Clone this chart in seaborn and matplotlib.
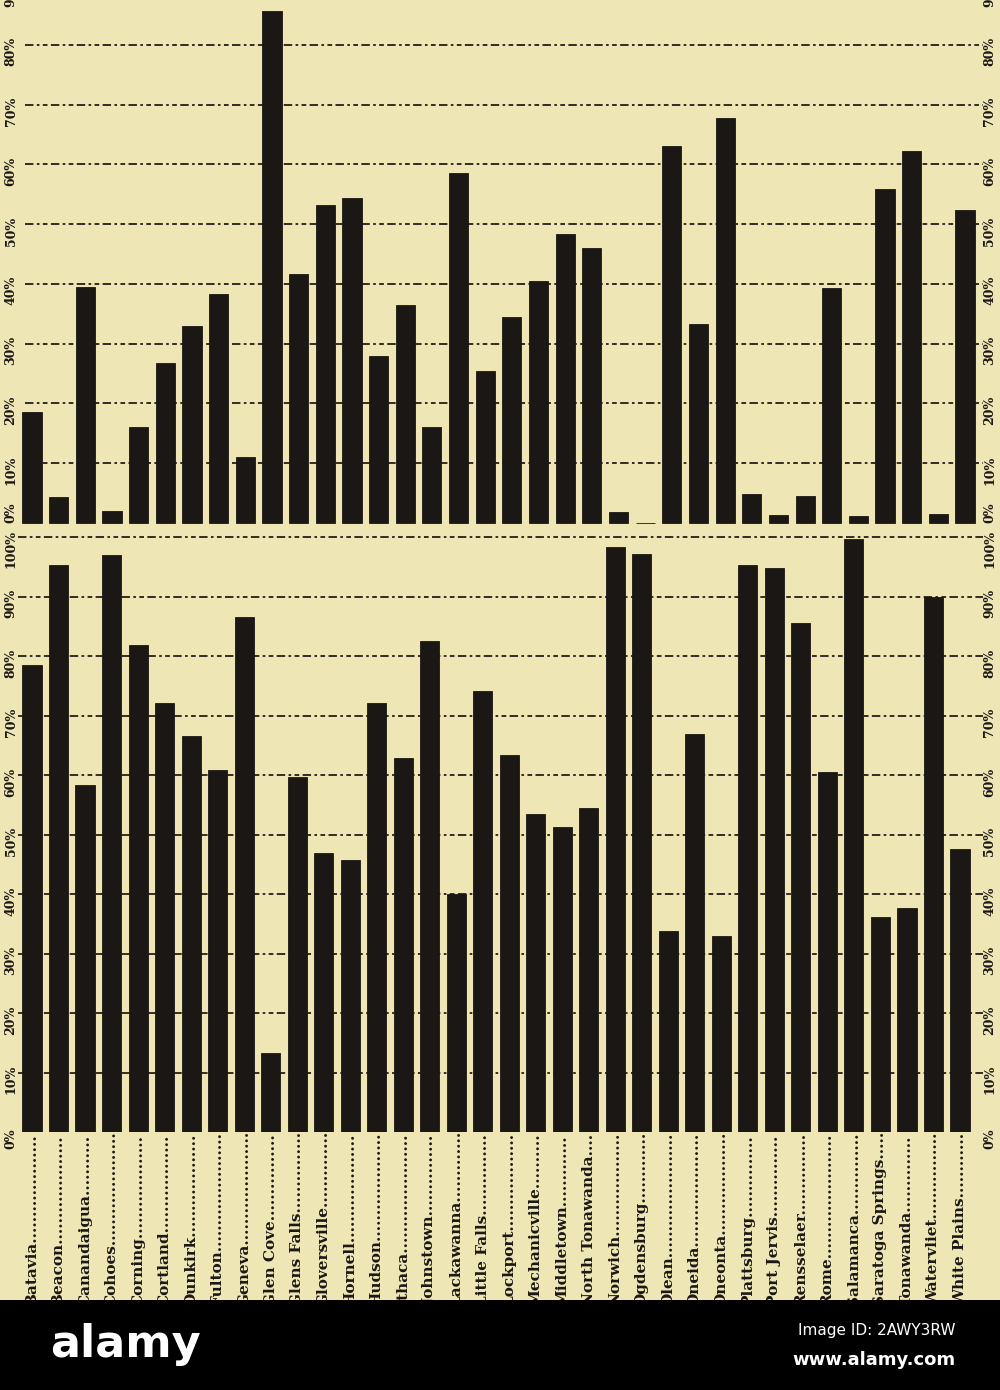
import matplotlib
matplotlib.use("Agg")
import matplotlib.pyplot as plt
import matplotlib.transforms as mtrans
from matplotlib.patches import Rectangle
import pandas as pd
import seaborn as sns

# ---------------- data ----------------
cities = ["Batavia", "Beacon", "Canandaigua", "Cohoes", "Corning", "Cortland",
          "Dunkirk", "Fulton", "Geneva", "Glen Cove", "Glens Falls", "Gloversville",
          "Hornell", "Hudson", "Ithaca", "Johnstown", "Lackawanna", "Little Falls",
          "Lockport", "Mechanicville", "Middletown", "North Tonawanda", "Norwich",
          "Ogdensburg", "Olean", "Oneida", "Oneonta", "Plattsburg", "Port Jervis",
          "Rensselaer", "Rome", "Salamanca", "Saratoga Springs", "Tonawanda",
          "Watervliet", "White Plains"]

top_values = [18.5, 4.3, 39.5, 2.0, 16.0, 26.7, 33.0, 38.3, 11.0, 85.7,
              41.7, 53.2, 54.4, 28.0, 36.5, 16.1, 58.6, 25.4, 34.4, 40.4,
              48.3, 46.0, 1.8, 0.0, 63.0, 33.3, 67.8, 4.8, 1.3, 4.5,
              39.3, 1.2, 55.8, 62.3, 1.5, 52.4]

bottom_values = [78.5, 95.3, 58.4, 97.0, 81.8, 72.1, 66.6, 60.8, 86.6, 13.3,
                 59.6, 46.9, 45.7, 72.2, 62.8, 82.6, 40.0, 74.1, 63.3, 53.4,
                 51.2, 54.4, 98.3, 97.2, 33.8, 66.9, 32.9, 95.3, 94.8, 85.6,
                 60.5, 99.7, 36.2, 37.7, 90.0, 47.6]

top_ticks = [0, 10, 20, 30, 40, 50, 60, 70, 80, 90]
bottom_ticks = [0, 10, 20, 30, 40, 50, 60, 70, 80, 90, 100]

# ---------------- style ----------------
BG = "#efe6b6"
INK = "#1b1714"
sns.set_theme(style="white")
plt.rcParams["font.family"] = ["DejaVu Serif"]

W, H = 1000, 1390
fig = plt.figure(figsize=(10, 13.9), dpi=100, facecolor=BG)


def box(x0, y0, x1, y1):
    return [x0 / W, 1 - y1 / H, (x1 - x0) / W, (y1 - y0) / H]


ax_top = fig.add_axes(box(0, 0, 1000, 530))
ax_bot = fig.add_axes(box(0, 530, 1000, 1132))

df_top = pd.DataFrame({"city": cities, "value": top_values})
df_bot = pd.DataFrame({"city": cities, "value": bottom_values})

GRID_LS = (0, (4.5, 1.8, 1.4, 1.8, 2.5, 1.8))

panels = [
    (ax_top, df_top, (-1.2, 87.5), top_ticks, [10, 20, 30, 40, 50, 60, 70, 80],
     (-1.2, 36.31), (0.025, 0.983)),
    (ax_bot, df_bot, (0, 101.2), bottom_ticks, [10, 20, 30, 40, 50, 60, 70, 80, 90, 100],
     (-1.207, 36.509), (0.018, 0.983)),
]

for ax, df, ylim, ticks, grid_vals, xlim, gx in panels:
    ax.set_facecolor(BG)
    sns.barplot(data=df, x="city", y="value", color=INK, saturation=1,
                width=0.72, ax=ax, zorder=3, edgecolor=INK, linewidth=0.6)
    ax.set_xlim(*xlim)
    ax.set_ylim(*ylim)
    for v in grid_vals:
        ax.axhline(v, xmin=gx[0], xmax=gx[1], color="#2b2520", lw=1.35,
                   ls=GRID_LS, zorder=1)
    for s in ax.spines.values():
        s.set_visible(False)
    ax.set_xticks([])
    ax.set_yticks([])
    ax.set_xlabel("")
    ax.set_ylabel("")
    tr = mtrans.blended_transform_factory(ax.transAxes, ax.transData)
    for v in ticks:
        # labels sit slightly below their line, as in the print
        dy = -7
        if ax is ax_top and v == 0:
            dy = 10
        if ax is ax_bot and v == 100:
            dy = -12
        tr_off = mtrans.offset_copy(tr, fig=fig, x=0, y=dy, units="dots")
        for xf in (0.011, 0.990):
            ax.text(xf, v, f"{v}%", transform=tr_off, rotation=90, ha="center",
                    va="center", fontsize=9, fontweight="bold", color=INK,
                    clip_on=False)

# city labels with dot leaders, rotated, reading bottom-to-top
fig.canvas.draw()
renderer = fig.canvas.get_renderer()
tr_lab = mtrans.blended_transform_factory(ax_bot.transData, fig.transFigure)
y_base = 1 - 1306 / H
target = 170
for i, name in enumerate(cities):
    s = name + "."
    t = ax_bot.text(i, y_base, s, transform=tr_lab, rotation=90, ha="center",
                    va="bottom", fontsize=11, fontweight="bold", color=INK,
                    clip_on=False)
    while t.get_window_extent(renderer).height < target:
        s += "."
        t.set_text(s)

# bottom band of the scanned image
fig.patches.append(Rectangle((0, 0), 1, 90 / H, transform=fig.transFigure,
                             facecolor="black", edgecolor="none", zorder=20))
fig.text(50 / W, 1 - 1345 / H, "alamy", color="white", fontsize=32,
         fontweight="bold", family=["DejaVu Sans"], ha="left", va="center",
         zorder=21)
fig.text(955 / W, 1 - 1330 / H, "Image ID: 2AWY3RW", color="white",
         fontsize=11, family=["DejaVu Sans"], ha="right", va="center", zorder=21)
fig.text(955 / W, 1 - 1360 / H, "www.alamy.com", color="white", fontsize=13,
         fontweight="bold", family=["DejaVu Sans"], ha="right", va="center",
         zorder=21)

fig.savefig("out.png", dpi=100, facecolor=BG)
